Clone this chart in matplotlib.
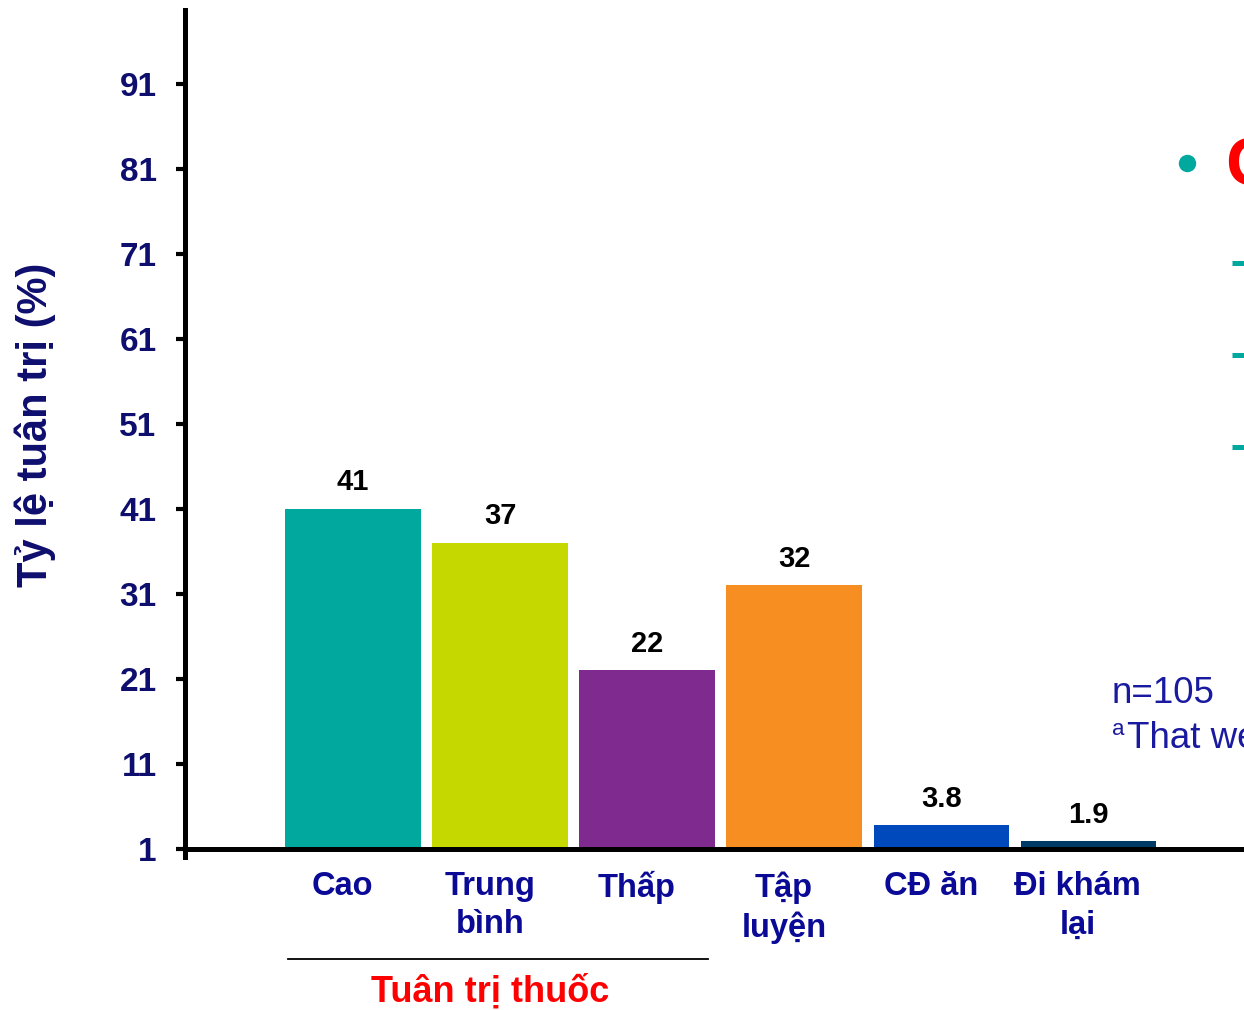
import numpy as np
import matplotlib.pyplot as plt
from matplotlib.lines import Line2D
import matplotlib.transforms as mtransforms

plt.rcParams['font.family'] = ['Liberation Sans', 'DejaVu Sans']

# donnees
categories = ["Cao", "Trung\nbình", "Thấp", "Tập\nluyện", "CĐ ăn", "Đi khám\nlại"]
values = [41, 37, 22, 32, 3.8, 1.9]
value_labels = ["41", "37", "22", "32", "3.8", "1.9"]
colors = ["#00A89D", "#C5D800", "#7F2A8E", "#F68E21", "#0049BC", "#003A66"]
yticks = [1, 11, 21, 31, 41, 51, 61, 71, 81, 91]
group_label = "Tuân trị thuốc"
ylabel = "Tỷ lệ tuân trị (%)"

W, H = 1244, 1010
fig = plt.figure(figsize=(W / 100, H / 100), dpi=100)
ax = fig.add_axes([185 / W, (H - 849) / H, 1 - 185 / W, (849 - 10) / H])

base = 1
x = np.arange(len(values))
bars = ax.bar(x, np.array(values) - base, bottom=base, width=0.92,
              color=colors, zorder=2)

ax.set_xlim(-1.143, 6.06)
ax.set_ylim(1, 99.7)

navy = "#0E0E6E"
label_blue = "#0A0A96"

# axes
for s in ["top", "right"]:
    ax.spines[s].set_visible(False)
ax.spines["left"].set_linewidth(3.6)
ax.spines["bottom"].set_linewidth(3.6)
ax.spines["bottom"].set_zorder(3)
ax.spines["left"].set_bounds(0.06, 99.7)

ax.set_yticks(yticks)
ax.set_yticklabels([str(t) for t in yticks])
ax.tick_params(axis="y", length=6.5, width=3, direction="out", pad=14,
               labelsize=24, labelcolor=navy)
for lbl in ax.get_yticklabels():
    lbl.set_fontweight("bold")

ax.set_xticks(x - 0.07)
ax.set_xticklabels(categories, fontsize=23.5, fontweight="bold",
                   color=label_blue, linespacing=1.3)
ax.tick_params(axis="x", length=0, pad=16)

# valeurs au-dessus des barres
for b, lab in zip(bars, value_labels):
    ax.annotate(lab, (b.get_x() + b.get_width() / 2, b.get_y() + b.get_height()),
                xytext=(0, 9), textcoords="offset points", ha="center",
                va="bottom", fontsize=21, fontweight="bold", color="black")

# titre de l'axe y
fig.text(35 / W, 1 - 425 / H, ylabel, rotation=90, ha="center", va="center",
         fontsize=30, fontweight="bold", color=navy)

# groupe "Tuân trị thuốc"
trans = mtransforms.blended_transform_factory(ax.transData, fig.transFigure)
x0, x1 = -0.44, 2.415
fig.add_artist(Line2D([x0, x1], [1 - 959 / H] * 2, transform=trans,
                      color="black", lw=1.3))
fig.text((x0 + x1) / 2 - 0.055, 1 - 992 / H, group_label, transform=trans,
         ha="center", va="center", fontsize=26, fontweight="bold",
         color="#FF0000")

# texte a droite
teal = "#00A89D"
fig.add_artist(Line2D([1187 / W], [1 - 163 / H], marker="o", markersize=11.5,
                      color=teal, transform=fig.transFigure))
fig.text(1225 / W, 1 - 186 / H, "C", ha="left", va="baseline",
         fontsize=50, fontweight="bold", color="#FF0000")
for yy in [263, 355, 447]:
    fig.add_artist(Line2D([1232 / W, 1.0], [1 - yy / H] * 2, color=teal,
                          lw=3.6, solid_capstyle="butt",
                          transform=fig.transFigure))

note_color = "#1A1AA0"
fig.text(1112 / W, 1 - 703 / H, "n=105", ha="left", va="baseline",
         fontsize=26.5, color=note_color)
fig.text(1112 / W, 1 - 735 / H, "a", ha="left", va="baseline",
         fontsize=16, color=note_color)
fig.text(1127 / W, 1 - 748 / H, "That we", ha="left", va="baseline",
         fontsize=26.5, color=note_color)

fig.savefig("out.png", dpi=100)
